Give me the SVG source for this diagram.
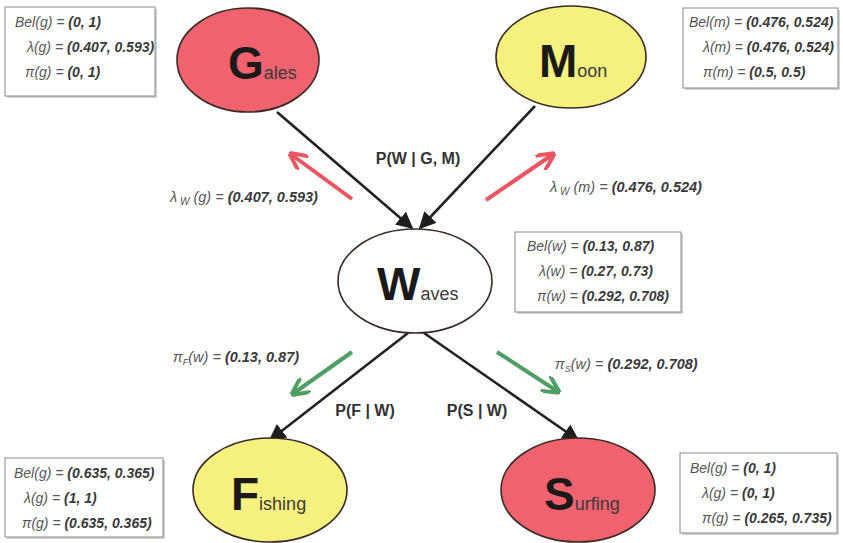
<svg xmlns="http://www.w3.org/2000/svg" width="843" height="543" viewBox="0 0 843 543">
  <style>
    .node ellipse { stroke: #3a2a26; stroke-width: 1.6; }
    .red { fill: #f0636e; }
    .yel { fill: #f6f07e; }
    .wht { fill: #ffffff; }
    .big { font-family: "Liberation Sans", Arial, sans-serif; font-weight: bold; font-size: 46px; fill: #1a1a1a; }
    .small { font-family: "Liberation Sans", Arial, sans-serif; font-size: 18px; fill: #3a3a3a; }
    .box rect.frame { fill: #ffffff; stroke: #8a8a8a; stroke-width: 1; }
    .box rect.shadow { fill: #d2d2d2; }
    .bt { font-family: "Liberation Sans", Arial, sans-serif; font-style: italic; font-size: 14px; fill: #555; }
    .bt .v { font-weight: bold; fill: #3a3a3a; }
    .edge { stroke: #222; stroke-width: 2.6; fill: none; }
    .lbl { font-family: "Liberation Sans", Arial, sans-serif; font-weight: bold; font-size: 16px; fill: #333; }
    .msg { font-family: "Liberation Sans", Arial, sans-serif; font-style: italic; font-size: 14.5px; fill: #555; }
    .msg .v { font-weight: bold; fill: #3a3a3a; }
    .redarrow { stroke: #ec5560; stroke-width: 4; fill: none; }
    .greenarrow { stroke: #4f9f63; stroke-width: 4; fill: none; }
  </style>
  <defs>
    <!-- solid head for the causal links -->
    <marker id="head" viewBox="0 0 10 10" refX="9" refY="5" markerWidth="6.5" markerHeight="6.5" orient="auto" markerUnits="strokeWidth">
      <path d="M0,0 L10,5 L0,10 z" fill="#1e1e1e"/>
    </marker>
    <!-- open chevron heads for the message arrows -->
    <marker id="headRed" viewBox="0 0 10 10" refX="8" refY="5" markerWidth="4.5" markerHeight="4.5" orient="auto" markerUnits="strokeWidth">
      <path d="M0,0 L10,5 L0,10" fill="none" stroke="#ec5560" stroke-width="2.2"/>
    </marker>
    <marker id="headGreen" viewBox="0 0 10 10" refX="8" refY="5" markerWidth="4.5" markerHeight="4.5" orient="auto" markerUnits="strokeWidth">
      <path d="M0,0 L10,5 L0,10" fill="none" stroke="#4f9f63" stroke-width="2.2"/>
    </marker>
  </defs>

  <rect width="843" height="543" fill="#ffffff"/>

  <!-- connectors -->
  <g id="connectors">
    <line class="edge" x1="277" y1="112" x2="412" y2="228" marker-end="url(#head)"/>
    <line class="edge" x1="535" y1="106" x2="420" y2="228" marker-end="url(#head)"/>
    <line class="edge" x1="408" y1="333" x2="270" y2="440" marker-end="url(#head)"/>
    <line class="edge" x1="424" y1="333" x2="578" y2="440" marker-end="url(#head)"/>

    <line class="redarrow" x1="352" y1="199" x2="292" y2="155" marker-end="url(#headRed)"/>
    <line class="redarrow" x1="486" y1="200" x2="552" y2="155" marker-end="url(#headRed)"/>
    <line class="greenarrow" x1="352" y1="352" x2="294" y2="393" marker-end="url(#headGreen)"/>
    <line class="greenarrow" x1="497" y1="352" x2="557" y2="391" marker-end="url(#headGreen)"/>

    <text class="lbl" x="418" y="164" text-anchor="middle">P(W | G, M)</text>
    <text class="lbl" x="365" y="416" text-anchor="middle">P(F | W)</text>
    <text class="lbl" x="477" y="416" text-anchor="middle">P(S | W)</text>

    <text class="msg" x="170" y="202">λ<tspan font-size="10" dy="3"> W</tspan><tspan dy="-3"> (g) = </tspan><tspan class="v">(0.407, 0.593)</tspan></text>
    <text class="msg" x="550" y="192">λ<tspan font-size="10" dy="3"> W</tspan><tspan dy="-3"> (m) = </tspan><tspan class="v">(0.476, 0.524)</tspan></text>
    <text class="msg" x="173" y="362">π<tspan font-size="9" dy="3">F</tspan><tspan dy="-3">(w) = </tspan><tspan class="v">(0.13, 0.87)</tspan></text>
    <text class="msg" x="555" y="369">π<tspan font-size="9" dy="3">S</tspan><tspan dy="-3">(w) = </tspan><tspan class="v">(0.292, 0.708)</tspan></text>
  </g>

  <!-- nodes -->
  <g id="gales" class="node">
    <ellipse class="red" cx="248" cy="60" rx="71" ry="52"/>
    <text x="228" y="79"><tspan class="big">G</tspan><tspan class="small">ales</tspan></text>
  </g>
  <g id="moon" class="node">
    <ellipse class="yel" cx="571" cy="57" rx="75" ry="51"/>
    <text x="539" y="77"><tspan class="big">M</tspan><tspan class="small">oon</tspan></text>
  </g>
  <g id="waves" class="node">
    <ellipse class="wht" cx="415" cy="281" rx="77" ry="52"/>
    <text x="377" y="300"><tspan class="big">W</tspan><tspan class="small">aves</tspan></text>
  </g>
  <g id="fishing" class="node">
    <ellipse class="yel" cx="270" cy="490" rx="77" ry="52"/>
    <text x="231" y="510"><tspan class="big">F</tspan><tspan class="small">ishing</tspan></text>
  </g>
  <g id="surfing" class="node">
    <ellipse class="red" cx="578" cy="490" rx="77" ry="52"/>
    <text x="544" y="510"><tspan class="big">S</tspan><tspan class="small">urfing</tspan></text>
  </g>

  <!-- belief boxes -->
  <g id="box-gales" class="box">
    <rect class="shadow" x="7" y="9" width="150" height="89"/>
    <rect class="frame" x="5" y="7" width="150" height="89"/>
    <text class="bt" x="15" y="27">Bel(g) = <tspan class="v">(0, 1)</tspan></text>
    <text class="bt" x="27" y="52">λ(g) = <tspan class="v">(0.407, 0.593)</tspan></text>
    <text class="bt" x="25" y="77">π(g) = <tspan class="v">(0, 1)</tspan></text>
  </g>
  <g id="box-moon" class="box">
    <rect class="shadow" x="685" y="10" width="155" height="80"/>
    <rect class="frame" x="683" y="8" width="155" height="80"/>
    <text class="bt" x="689" y="27">Bel(m) = <tspan class="v">(0.476, 0.524)</tspan></text>
    <text class="bt" x="703" y="52">λ(m) = <tspan class="v">(0.476, 0.524)</tspan></text>
    <text class="bt" x="703" y="77">π(m) = <tspan class="v">(0.5, 0.5)</tspan></text>
  </g>
  <g id="box-waves" class="box">
    <rect class="shadow" x="517" y="234" width="166" height="80"/>
    <rect class="frame" x="515" y="232" width="166" height="80"/>
    <text class="bt" x="527" y="251">Bel(w) = <tspan class="v">(0.13, 0.87)</tspan></text>
    <text class="bt" x="539" y="276">λ(w) = <tspan class="v">(0.27, 0.73)</tspan></text>
    <text class="bt" x="537" y="301">π(w) = <tspan class="v">(0.292, 0.708)</tspan></text>
  </g>
  <g id="box-fishing" class="box">
    <rect class="shadow" x="7" y="460" width="158" height="79"/>
    <rect class="frame" x="5" y="458" width="158" height="79"/>
    <text class="bt" x="14" y="478">Bel(g) = <tspan class="v">(0.635, 0.365)</tspan></text>
    <text class="bt" x="24" y="503">λ(g) = <tspan class="v">(1, 1)</tspan></text>
    <text class="bt" x="22" y="528">π(g) = <tspan class="v">(0.635, 0.365)</tspan></text>
  </g>
  <g id="box-surfing" class="box">
    <rect class="shadow" x="682" y="455" width="157" height="80"/>
    <rect class="frame" x="680" y="453" width="157" height="80"/>
    <text class="bt" x="690" y="473">Bel(g) = <tspan class="v">(0, 1)</tspan></text>
    <text class="bt" x="702" y="498">λ(g) = <tspan class="v">(0, 1)</tspan></text>
    <text class="bt" x="702" y="523">π(g) = <tspan class="v">(0.265, 0.735)</tspan></text>
  </g>
</svg>
